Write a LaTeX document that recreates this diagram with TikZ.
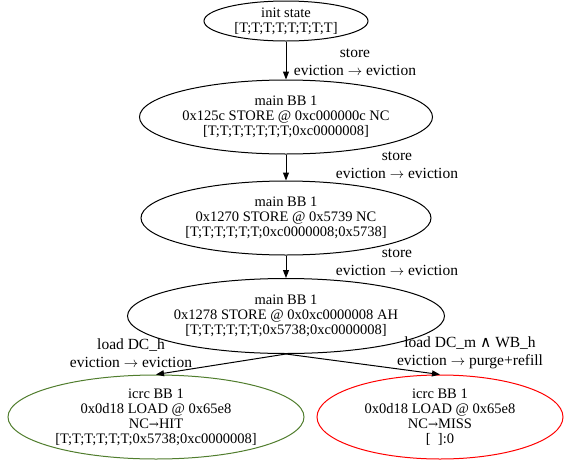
\documentclass[tikz,border=0pt]{standalone}
\usepackage{fontspec}
\setmainfont{Liberation Serif}
\newfontfamily\symfont{DejaVu Serif}
\usetikzlibrary{arrows.meta,shapes.geometric,positioning}

\definecolor{hitgreen}{RGB}{80,125,45}

\begin{document}
\begin{tikzpicture}[x=1pt,y=-1pt,
    state/.style={draw,ellipse,line width=1pt,inner sep=0pt,align=center,
      font=\fontsize{14.5}{15}\selectfont},
    elabel/.style={align=center,inner sep=0pt,font=\fontsize{15.5}{18.5}\selectfont},
    edge/.style={line width=1pt,-{Triangle[length=8pt,width=6pt]}}]
  \useasboundingbox (0,0) rectangle (566,464);

  \node[state,minimum width=164pt,minimum height=40pt] (init) at (286,21)
    {init state\\{}[T;T;T;T;T;T;T;T]};
  \node[state,minimum width=290pt,minimum height=74pt] (bb1) at (286,117)
    {main BB 1\\0x125c STORE @ 0xc000000c NC\\{}[T;T;T;T;T;T;T;0xc0000008]};
  \node[state,minimum width=290pt,minimum height=74pt] (bb2) at (286,218)
    {main BB 1\\0x1270 STORE @ 0x5739 NC\\{}[T;T;T;T;T;T;0xc0000008;0x5738]};
  \node[state,minimum width=292pt,minimum height=75pt] (bb3) at (286,316)
    {main BB 1\\0x1278 STORE @ 0x0xc0000008 AH\\{}[T;T;T;T;T;T;0x5738;0xc0000008]};
  \node[state,draw=hitgreen,minimum width=296pt,minimum height=84pt] (hit) at (156,417)
    {icrc BB 1\\0x0d18 LOAD @ 0x65e8\\NC{\symfont\fontsize{12}{15}\selectfont →}HIT\\{}[T;T;T;T;T;T;0x5738;0xc0000008]};
  \node[state,draw=red,minimum width=246pt,minimum height=84pt] (miss) at (440,417)
    {icrc BB 1\\0x0d18 LOAD @ 0x65e8\\NC{\symfont\fontsize{12}{15}\selectfont →}MISS\\{}[\ \ ]:0};

  \draw[edge] (init) -- (bb1);
  \draw[edge] (bb1) -- (bb2);
  \draw[edge] (bb2) -- (bb3);
  \draw[edge] (bb3.south) -- (hit.north);
  \draw[edge] (bb3.south) -- (miss.north);

  \node[elabel] (l1) at (355,62) {store\\eviction $\rightarrow$ eviction};
  \node[elabel] (l2) at (397,165) {store\\eviction $\rightarrow$ eviction};
  \node[elabel] (l3) at (397,262) {store\\eviction $\rightarrow$ eviction};
  \node[elabel] (l4) at (131,353) {load DC\_h\\eviction $\rightarrow$ eviction};
  \node[elabel] (l5) at (470,353) {load DC\_m {\symfont∧} WB\_h\\eviction $\rightarrow$ purge+refill};
\end{tikzpicture}
\end{document}
